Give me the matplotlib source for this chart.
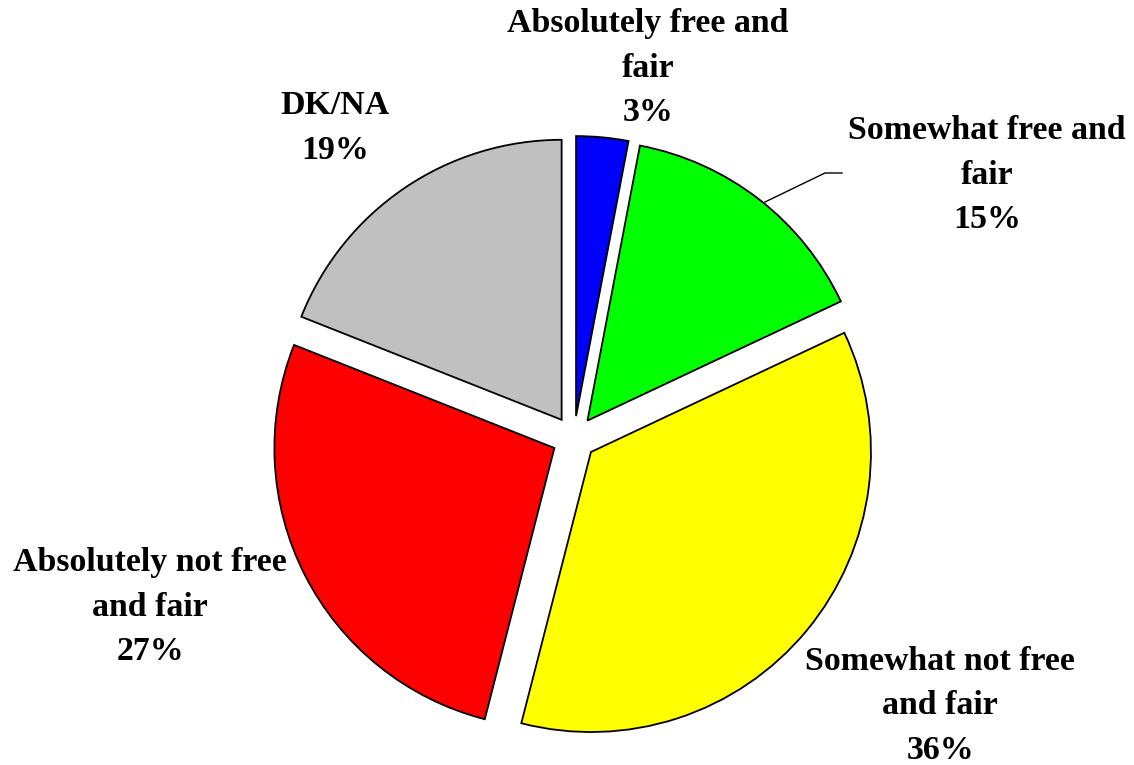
import matplotlib.pyplot as plt

labels = ['Absolutely free and\nfair', 'Somewhat free and\nfair', 'Somewhat not free\nand fair',
          'Absolutely not free\nand fair', 'DK/NA']
values = [3, 15, 36, 27, 19]
colors = ['#0000ff', '#00ff00', '#ffff00', '#ff0000', '#c0c0c0']

# label centres in pixel coordinates (x, y from top)
label_pos = [(648, 68), (987, 175), (940, 706), (150, 607), (335, 128)]

W, H = 1134, 765
fig = plt.figure(figsize=(W / 100, H / 100), dpi=100)
ax = fig.add_axes([0, 0, 1, 1])

# explode is in data units here (pixels)
ax.pie(values, colors=colors, startangle=90, counterclock=False,
       explode=[22] * len(values), radius=280, center=(574, H - 438),
       wedgeprops={'edgecolor': 'black', 'linewidth': 1.3})

ax.set_xlim(0, W)
ax.set_ylim(0, H)
ax.set_aspect('equal')
ax.axis('off')

for lab, v, (x, y) in zip(labels, values, label_pos):
    ax.text(x, H - y, f'{lab}\n{v}%', ha='center', va='center', fontsize=24.4,
            fontweight='bold', family='Liberation Serif', linespacing=1.56,
            multialignment='center')

# leader line for the green slice
ax.plot([765, 825, 842], [H - 202, H - 173, H - 173], color='black', lw=1)

fig.savefig('out.png', dpi=100)
